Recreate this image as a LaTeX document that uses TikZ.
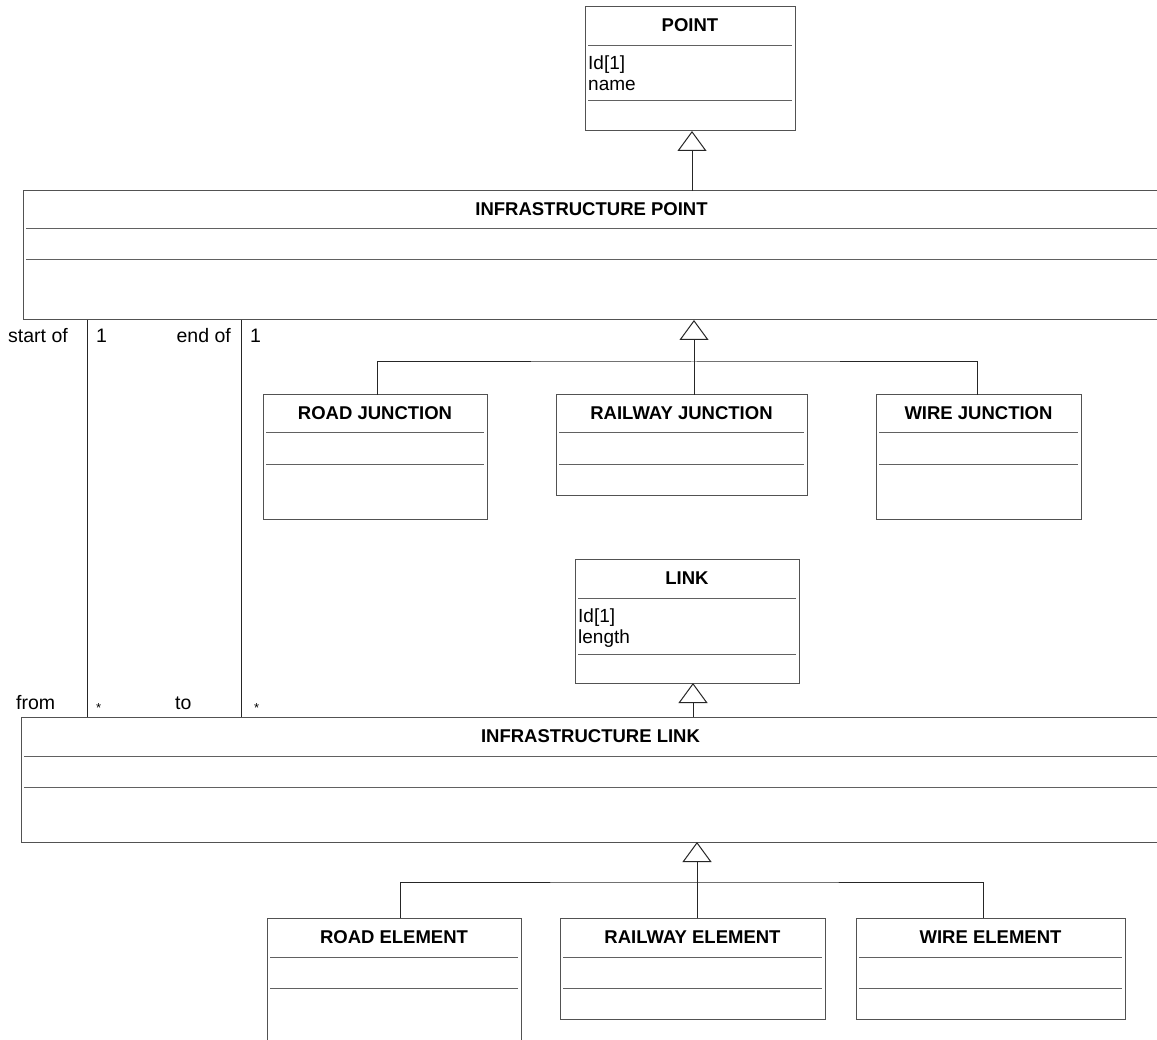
\documentclass[tikz,border=0pt]{standalone}
\usepackage{fontspec}
\setmainfont{Liberation Sans}
\usetikzlibrary{arrows.meta}

% one UML class: name, x, y (top left), width, height, title, first and second compartment line (from top)
\newcommand\umlclass[8]{%
  \node[classbox, minimum width=#4pt, minimum height=#5pt] (#1) at (#2,#3) {};
  \node[classtitle] (#1-title) at ([yshift=-25pt]#1.north) {#6};
  \draw[compart] ([xshift=3pt,yshift=-#7pt]#1.north west) -- ([xshift=-3pt,yshift=-#7pt]#1.north east);
  \draw[compart] ([xshift=3pt,yshift=-#8pt]#1.north west) -- ([xshift=-3pt,yshift=-#8pt]#1.north east);
}

\begin{document}
\begin{tikzpicture}[x=1pt, y=-1pt,
  classbox/.style={draw=black!68, line width=1pt, rectangle, anchor=north west,
    inner sep=0pt, outer sep=0pt, fill=white},
  classtitle/.style={anchor=base, inner sep=0pt, font=\fontsize{18.5}{22}\selectfont\bfseries},
  attr/.style={anchor=base west, inner sep=0pt, font=\fontsize{19}{22}\selectfont},
  role/.style={inner sep=0pt, font=\fontsize{19.5}{22}\selectfont},
  mult/.style={anchor=base west, inner sep=0pt, font=\fontsize{13}{15}\selectfont},
  compart/.style={draw=black!62, line width=1pt},
  conn/.style={draw=black!85, line width=1pt},
  gen/.style={conn, -{Triangle[open, length=20pt, width=29pt, fill=white]}}]

\clip (0,0) rectangle (1157,1040);
\fill[white] (0,0) rectangle (1157,1040);

% classes
\umlclass{pt}{585}{7}{210}{124}{POINT}{39}{94}
\node[attr] (pt-id) at (588,70) {Id[1]};
\node[attr] (pt-name) at (588,91) {name};

\umlclass{ip}{23}{191}{1137}{129}{INFRASTRUCTURE POINT}{38}{69}

\umlclass{rdj}{263}{395}{224}{124}{ROAD JUNCTION}{38}{70}
\umlclass{rlj}{556}{395}{251}{100}{RAILWAY JUNCTION}{38}{70}
\umlclass{wj}{876}{395}{205}{124}{WIRE JUNCTION}{38}{70}

\umlclass{lk}{575}{559}{224}{124}{LINK}{39}{95}
\node[attr] (lk-id) at (578,622) {Id[1]};
\node[attr] (lk-len) at (578,643) {length};

\umlclass{il}{21}{717}{1139}{125}{INFRASTRUCTURE LINK}{39}{70}

\umlclass{re}{267}{918}{254}{140}{ROAD ELEMENT}{39}{70}
\umlclass{rle}{560}{918}{265}{101}{RAILWAY ELEMENT}{39}{70}
\umlclass{we}{856}{918}{269}{101}{WIRE ELEMENT}{39}{70}

% generalisation: infrastructure point -> point
\coordinate (ptfoot) at ([xshift=107pt]pt.south west);
\draw[gen] (ptfoot |- ip.north) -- (ptfoot);

% generalisation: junctions -> infrastructure point
\coordinate (jfork) at (694,362);
\draw[conn] ([xshift=114pt]rdj.north west) |- (jfork) -| ([xshift=101pt]wj.north west);
\draw[conn] ([xshift=138pt]rlj.north west) -- (jfork);
\draw[gen] (jfork) -- (jfork |- ip.south);

% generalisation: infrastructure link -> link
\coordinate (lkfoot) at ([xshift=118pt]lk.south west);
\draw[gen] (lkfoot |- il.north) -- (lkfoot);

% generalisation: elements -> infrastructure link
\coordinate (efork) at (697,882);
\draw[conn] ([xshift=133pt]re.north west) |- (efork) -| ([xshift=127pt]we.north west);
\draw[conn] ([xshift=137pt]rle.north west) -- (efork);
\draw[gen] (efork) -- (efork |- il.south);

% associations between infrastructure point and infrastructure link
\coordinate (startx) at (87,0);
\coordinate (endx) at (241,0);
\draw[conn] (startx |- ip.south) -- (startx |- il.north);
\draw[conn] (endx |- ip.south) -- (endx |- il.north);

\node[role, anchor=base west] (r-start) at (8,343) {start of};
\node[role, anchor=base west] (m-start) at (96,343) {1};
\node[role, anchor=base east] (r-end) at (231,343) {end of};
\node[role, anchor=base west] (m-end) at (250,343) {1};
\node[role, anchor=base west] (r-from) at (16,709) {from};
\node[mult] (m-from) at (96,712) {*};
\node[role, anchor=base west] (r-to) at (175,709) {to};
\node[mult] (m-to) at (254,712) {*};
\end{tikzpicture}
\end{document}
